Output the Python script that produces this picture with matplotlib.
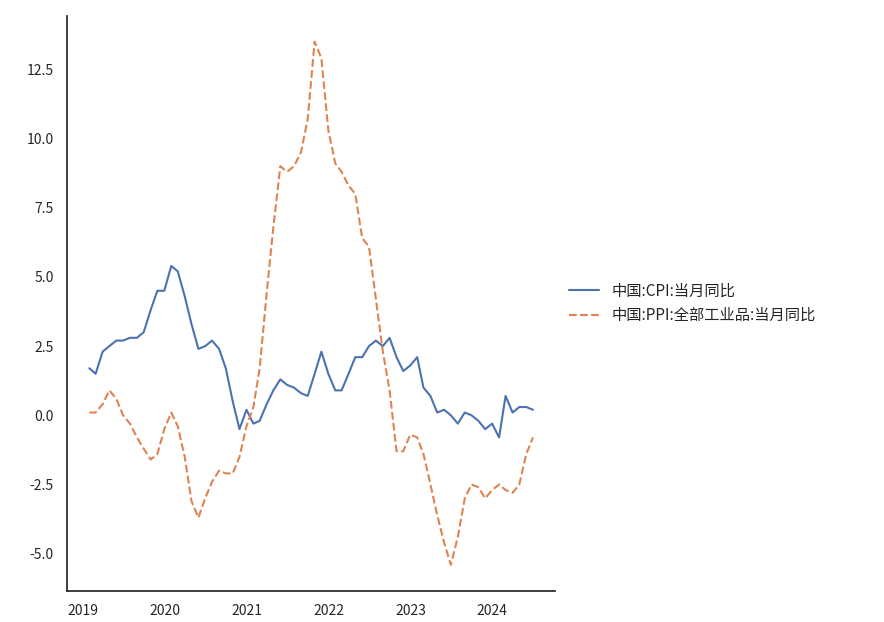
import numpy as np
import pandas as pd
import matplotlib.pyplot as plt
import seaborn as sns

sns.set_theme(style="white")
plt.rcParams['font.family'] = ['Noto Sans CJK SC', 'DejaVu Sans']
plt.rcParams['axes.unicode_minus'] = False

dates = pd.date_range("2019-01-31", "2024-06-30", freq="ME")
cpi = [1.7, 1.5, 2.3, 2.5, 2.7, 2.7, 2.8, 2.8, 3.0, 3.8, 4.5, 4.5,
       5.4, 5.2, 4.3, 3.3, 2.4, 2.5, 2.7, 2.4, 1.7, 0.5, -0.5, 0.2,
       -0.3, -0.2, 0.4, 0.9, 1.3, 1.1, 1.0, 0.8, 0.7, 1.5, 2.3, 1.5,
       0.9, 0.9, 1.5, 2.1, 2.1, 2.5, 2.7, 2.5, 2.8, 2.1, 1.6, 1.8,
       2.1, 1.0, 0.7, 0.1, 0.2, 0.0, -0.3, 0.1, 0.0, -0.2, -0.5, -0.3,
       -0.8, 0.7, 0.1, 0.3, 0.3, 0.2]
ppi = [0.1, 0.1, 0.4, 0.9, 0.6, 0.0, -0.3, -0.8, -1.2, -1.6, -1.4, -0.5,
       0.1, -0.4, -1.5, -3.1, -3.7, -3.0, -2.4, -2.0, -2.1, -2.1, -1.5, -0.4,
       0.3, 1.7, 4.4, 6.8, 9.0, 8.8, 9.0, 9.5, 10.7, 13.5, 12.9, 10.3,
       9.1, 8.8, 8.3, 8.0, 6.4, 6.1, 4.2, 2.3, 0.9, -1.3, -1.3, -0.7,
       -0.8, -1.4, -2.5, -3.6, -4.6, -5.4, -4.4, -3.0, -2.5, -2.6, -3.0, -2.7,
       -2.5, -2.7, -2.8, -2.5, -1.4, -0.8]

fig = plt.figure(figsize=(8.84, 6.22), dpi=100)
ax = fig.add_axes([0.076, 0.05, 0.552, 0.925])
ax.plot(dates, cpi, label="中国:CPI:当月同比")
ax.plot(dates, ppi, "--", label="中国:PPI:全部工业品:当月同比")
sns.despine(ax=ax)
ax.tick_params(labelsize=10)
ax.legend(loc="center left", bbox_to_anchor=(1.0, 0.5), frameon=False, fontsize=11)
fig.savefig("out.png")
